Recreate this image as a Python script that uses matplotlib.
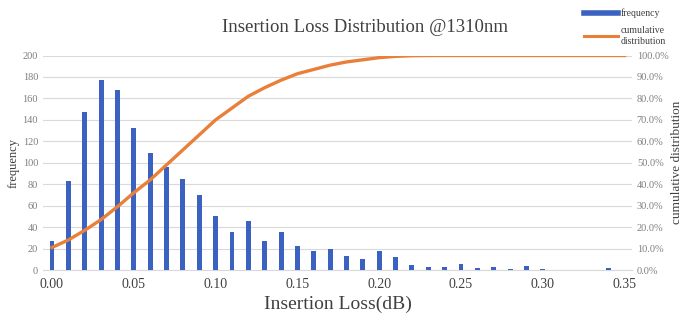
import numpy as np
import matplotlib
matplotlib.use("Agg")
import matplotlib.pyplot as plt
from matplotlib.ticker import FuncFormatter
from matplotlib.lines import Line2D

plt.rcParams['font.family'] = ['Liberation Serif', 'DejaVu Serif']

# insertion loss bins (dB)
loss = [round(0.01 * i, 2) for i in range(35)]
freq = [27, 83, 147, 177, 168, 132, 109, 96, 85, 70,
        50, 35, 46, 27, 35, 22, 18, 20, 13, 10,
        18, 12, 5, 3, 3, 6, 2, 3, 1, 4,
        1, 0.4, 0, 0.4, 2]

# cumulative curve (%)
cum_x = [round(0.01 * i, 2) for i in range(36)]
cum_pct = [10.5, 14, 18.5, 23.5, 29.5, 36, 42, 49, 56, 63,
           70, 75.5, 81, 85, 88.5, 91.5, 93.5, 95.5, 97, 98,
           99, 99.6, 99.9, 100, 100, 100, 100, 100, 100, 100,
           100, 100, 100, 100, 100, 100]

blue = '#3b62c0'
orange = '#e8803a'
grey = '#7f7f7f'

fig = plt.figure(figsize=(6.83, 3.24), dpi=100)
ax = fig.add_axes([43 / 683, 1 - 270 / 324, (632 - 43) / 683, (270 - 55.5) / 324])
ax2 = ax.twinx()

ax.bar(loss, freq, width=0.003, color=blue, zorder=3, label='frequency')
ax2.plot(cum_x, cum_pct, color=orange, lw=2.4, zorder=4, label='cumulative\ndistribution',
         solid_joinstyle='round')

ax.set_xlim(-0.0055, 0.3545)
ax.set_ylim(0, 200)
ax2.set_ylim(0, 100)
ax.set_yticks(range(0, 201, 20))
ax2.set_yticks(range(0, 101, 10))
ax.set_xticks(np.arange(0, 0.351, 0.05))
ax.xaxis.set_major_formatter(FuncFormatter(lambda v, p: '%.2f' % v))
ax2.yaxis.set_major_formatter(FuncFormatter(lambda v, p: '%.1f%%' % v))

ax.grid(axis='y', color='#d9d9d9', lw=0.8, zorder=0)
for a in (ax, ax2):
    for s in a.spines.values():
        s.set_visible(False)
    a.tick_params(length=0, colors=grey, labelsize=7.5)
ax.spines['bottom'].set_visible(True)
ax.spines['bottom'].set_color('#d9d9d9')
ax.tick_params(axis='x', labelsize=10, colors='#404040', pad=6)

ax.set_ylabel('frequency', fontsize=9, color='#404040', labelpad=2)
ax2.set_ylabel('cumulative distribution', fontsize=9.5, color='#404040', labelpad=2)
ax.set_xlabel('Insertion Loss(dB)', fontsize=14, color='#404040', labelpad=3)
fig.text(0.535, 0.915, 'Insertion Loss Distribution @1310nm', fontsize=13.5,
         color='#404040', ha='center', va='center')

h1, l1 = ax.get_legend_handles_labels()
h2, l2 = ax2.get_legend_handles_labels()
handles = [Line2D([], [], color=blue, lw=4), Line2D([], [], color=orange, lw=2.2)]
fig.legend(handles, l1 + l2, loc='upper left', bbox_to_anchor=(575 / 683, 1.0),
           frameon=False, fontsize=7, handlelength=3.5, labelspacing=0.8,
           handletextpad=0.3, labelcolor='#404040')

fig.savefig('out.png', dpi=100)
